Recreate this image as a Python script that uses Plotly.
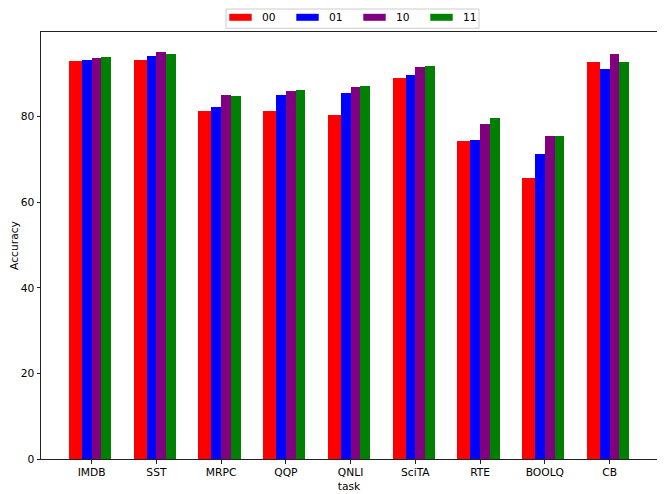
import plotly.graph_objects as go

# ---- data ----
tasks = ["IMDB", "SST", "MRPC", "QQP", "QNLI", "SciTA", "RTE", "BOOLQ", "CB"]
series_names = ["00", "01", "10", "11"]
acc_00 = [92.9, 93.3, 81.3, 81.2, 80.3, 89.0, 74.3, 65.7, 92.8]
acc_01 = [93.3, 94.1, 82.3, 85.0, 85.6, 89.6, 74.6, 71.3, 91.0]
acc_10 = [93.7, 95.0, 85.0, 86.0, 86.9, 91.5, 78.3, 75.4, 94.7]
acc_11 = [93.8, 94.7, 84.8, 86.2, 87.1, 91.9, 79.7, 75.5, 92.8]
y_ticks = [0, 20, 40, 60, 80]

series_vals = [acc_00, acc_01, acc_10, acc_11]
colors = ["#ff0000", "#0000ff", "#800080", "#008000"]
offsets = [-0.35, -0.15, 0.0, 0.15]
widths = [0.2, 0.15, 0.15, 0.15]

# page body has an 8px margin; size the figure so it fills the window exactly
BODY = 8
WIN_W, WIN_H = 665, 494
W, H = WIN_W - BODY, WIN_H - BODY
# plot area in window pixels
PL, PR, PT, PB = 41, 657, 32, 459
L, R, T, B = PL - BODY, WIN_W - PR, PT - BODY, WIN_H - PB
FONT = "DejaVu Sans"
FS = 10.7

fig = go.Figure()
for name, vals, col, off, w in zip(series_names, series_vals, colors, offsets, widths):
    fig.add_trace(go.Bar(
        x=tasks, y=vals, name=name, marker_color=col,
        marker_line_width=0, offset=off, width=w, showlegend=False,
    ))

pw = PR - PL
ph = PB - PT


def px(x):
    return (x - PL) / pw


def py(y):
    return (PB - y) / ph


shapes = []
annotations = []
# legend frame
shapes.append(dict(type="rect", xref="paper", yref="paper",
                   x0=px(226), x1=px(479), y0=py(28.3), y1=py(9),
                   line=dict(color="#cccccc", width=1), fillcolor="rgba(255,255,255,0.8)", layer="above"))
for i, (name, col) in enumerate(zip(series_names, colors)):
    bx = 229.3 + i * 67
    shapes.append(dict(type="rect", xref="paper", yref="paper",
                       x0=px(bx), x1=px(bx + 22.4), y0=py(20.8), y1=py(13.8),
                       line=dict(width=0), fillcolor=col, layer="above"))
    annotations.append(dict(xref="paper", yref="paper", x=px(bx + 31), y=py(17.5),
                            text=name, showarrow=False, xanchor="left", yanchor="middle",
                            font=dict(family=FONT, size=FS, color="black")))

fig.update_layout(
    width=W, height=H,
    margin=dict(l=L, r=R, t=T, b=B, pad=0, autoexpand=False),
    paper_bgcolor="white", plot_bgcolor="white",
    barmode="overlay", bargap=0,
    font=dict(family=FONT, size=FS, color="black"),
    shapes=shapes, annotations=annotations,
    showlegend=False,
)
fig.update_xaxes(
    type="category", range=[-0.7825, 8.7325], automargin=False,
    showline=True, linecolor="#222", linewidth=1, mirror=True,
    ticks="outside", ticklen=3.5, tickwidth=0.8, tickcolor="#222",
    showgrid=False, zeroline=False,
    tickfont=dict(family=FONT, size=FS, color="black"),
    title=dict(text="task", font=dict(family=FONT, size=FS, color="black"), standoff=4),
)
fig.update_yaxes(
    range=[0, 99.75], tickvals=y_ticks, automargin=False,
    showline=True, linecolor="#222", linewidth=1, mirror=True,
    ticks="outside", ticklen=3.5, tickwidth=0.8, tickcolor="#222",
    showgrid=False, zeroline=False,
    tickfont=dict(family=FONT, size=FS, color="black"),
    title=dict(text="Accuracy", font=dict(family=FONT, size=FS, color="black"), standoff=6),
)

fig.write_html("out.html")
